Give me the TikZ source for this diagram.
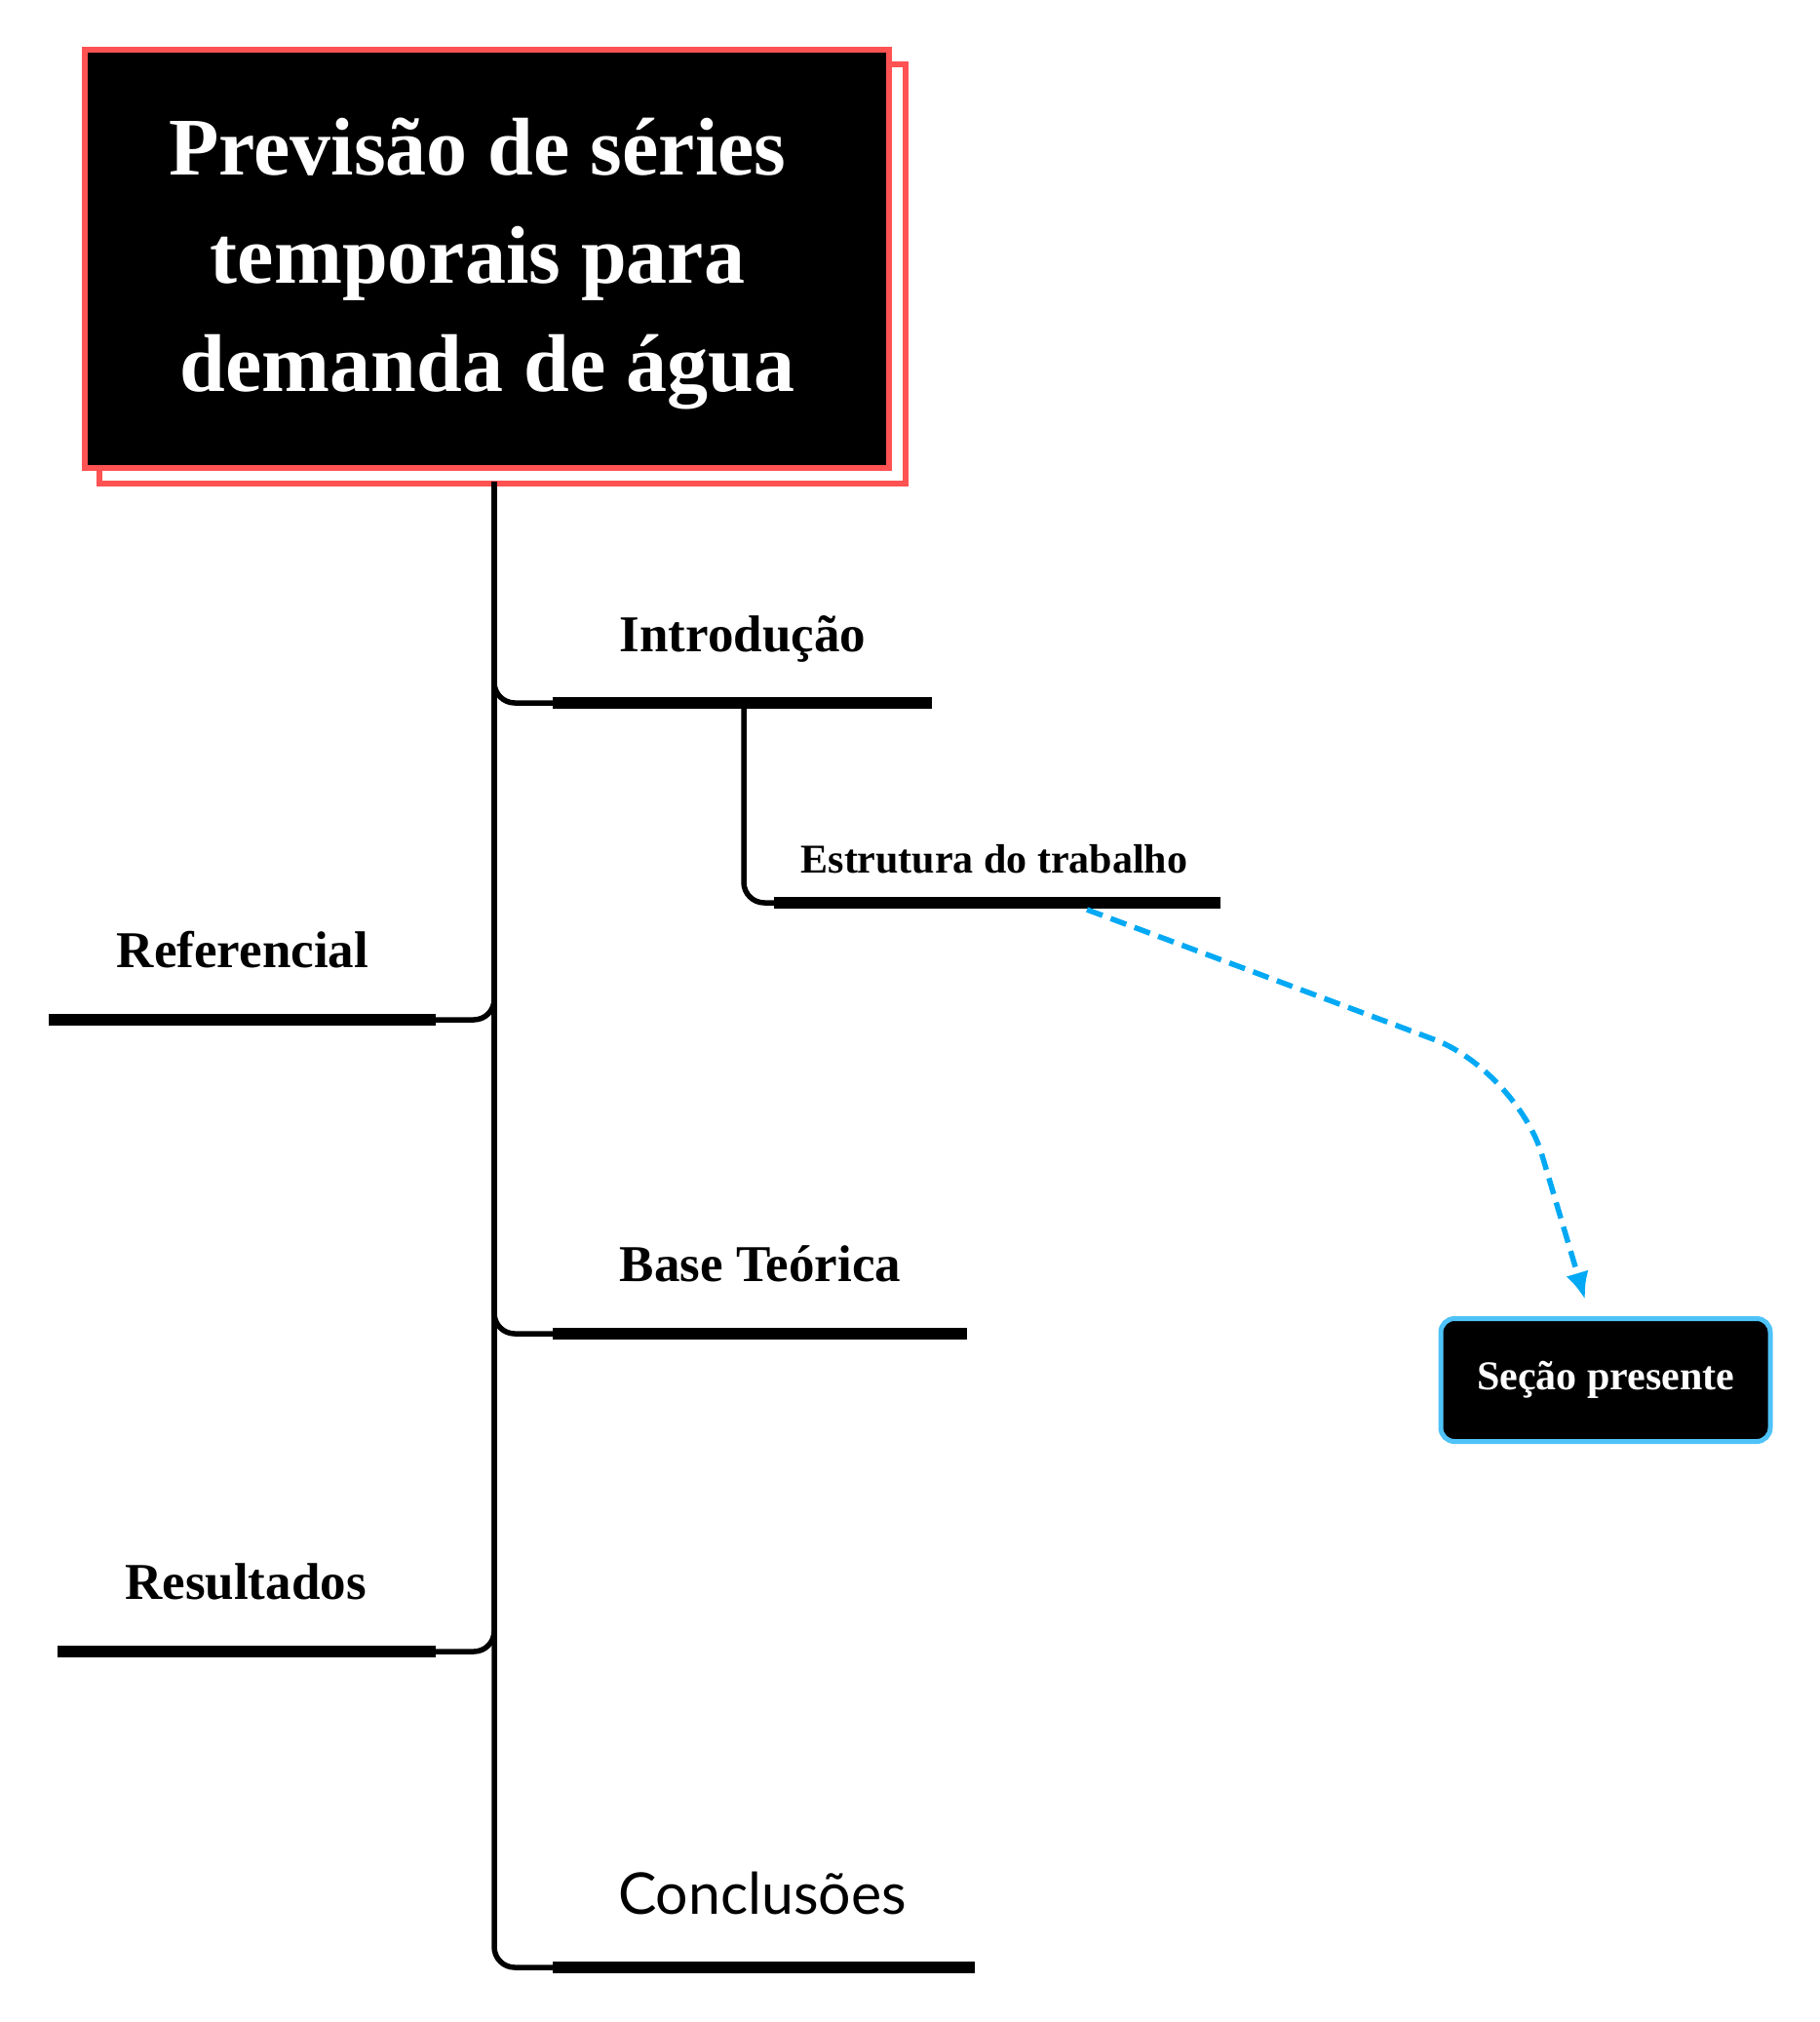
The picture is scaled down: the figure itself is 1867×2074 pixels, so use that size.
\documentclass[tikz,border=0pt]{standalone}
\usepackage{fontspec}
\setmainfont{Liberation Serif}
\newfontfamily\concfont{Lato}
\usetikzlibrary{arrows.meta,backgrounds}
\definecolor{tred}{HTML}{FF5252}
\definecolor{arrowblue}{HTML}{03A9F4}
\definecolor{boxblue}{HTML}{4FC3F7}
\begin{document}
\begin{tikzpicture}[x=1pt,y=-1pt,
  thinline/.style={line width=5.5pt, rounded corners=21pt},
  barline/.style={line width=11.5pt},
  lbl/.style={anchor=base, inner sep=0pt, font=\fontsize{53}{60}\selectfont\bfseries},
  sublbl/.style={anchor=base, inner sep=0pt, font=\fontsize{42}{48}\selectfont\bfseries},
  titlebox/.style={draw=tred, line width=6pt, fill=black, inner sep=0pt,
     minimum width=825pt, minimum height=428pt},
  titletext/.style={text=white, inner sep=0pt, align=center,
     font=\fontsize{84}{111}\selectfont\bfseries},
  secbox/.style={draw=boxblue, line width=5pt, fill=black, text=white, rounded corners=14pt,
     minimum width=338pt, minimum height=126pt, inner sep=0pt,
     font=\fontsize{42}{48}\selectfont\bfseries},
  linkarrow/.style={draw=arrowblue, line width=5.5pt, dash pattern=on 17pt off 9pt,
     rounded corners=90pt, -{Latex[length=28pt,width=24pt]}}
]
\useasboundingbox (0,0) rectangle (1867,2074);

% title
\node[titlebox] (title) at (499.5,265.5) {};
\begin{scope}[on background layer]
  \draw[tred, line width=6pt] ([shift={(18,18)}]title.north west) rectangle ([shift={(14,13)}]title.south east);
\end{scope}
\node[titletext] (titletxt) at (490,271) {Previsão de séries\\temporais para\\\hspace*{20pt}demanda de água};

% coordinates
\coordinate (trunktop) at (507,494);
\coordinate (introL) at (567,721);   \coordinate (introR) at (956,721);
\coordinate (introsub) at (763,721);
\coordinate (estL) at (794,926);     \coordinate (estR) at (1252,926);
\coordinate (refL) at (50,1046);     \coordinate (refR) at (447,1046);
\coordinate (baseL) at (567,1368);   \coordinate (baseR) at (992,1368);
\coordinate (resL) at (59,1694);     \coordinate (resR) at (447,1694);
\coordinate (concL) at (567,2018);   \coordinate (concR) at (1000,2018);

% connectors
\draw[thinline] (trunktop) |- (concL);
\draw[thinline] (trunktop) |- (introL);
\draw[thinline] (trunktop) |- (refR);
\draw[thinline] (trunktop) |- (baseL);
\draw[thinline] (trunktop) |- (resR);
\draw[thinline] (introsub) |- (estL);

% bars
\draw[barline] (introL) -- (introR);
\draw[barline] (estL) -- (estR);
\draw[barline] (refL) -- (refR);
\draw[barline] (baseL) -- (baseR);
\draw[barline] (resL) -- (resR);
\draw[barline] (concL) -- (concR);

% labels
\node[lbl] (intro) at (762,668) {Introdução};
\node[sublbl] (estrutura) at (1020,895) {Estrutura do trabalho};
\node[lbl] (referencial) at (249,992) {Referencial};
\node[lbl] (base) at (780,1314) {Base Teórica};
\node[lbl] (resultados) at (252,1640) {Resultados};
\node[anchor=base, inner sep=0pt, font=\concfont\fontsize{59}{64}\selectfont] (conclusoes) at (782,1963) {Conclusões};

% section box
\node[secbox] (secao) at (1647,1415.5) {Seção presente};

% arrow
\coordinate (arrowstart) at (1115,933);
\coordinate (arrowbend) at (1556,1098);
\draw[linkarrow] (arrowstart) -- (arrowbend) -- ([xshift=-21pt,yshift=17pt]secao.north);
\end{tikzpicture}
\end{document}
